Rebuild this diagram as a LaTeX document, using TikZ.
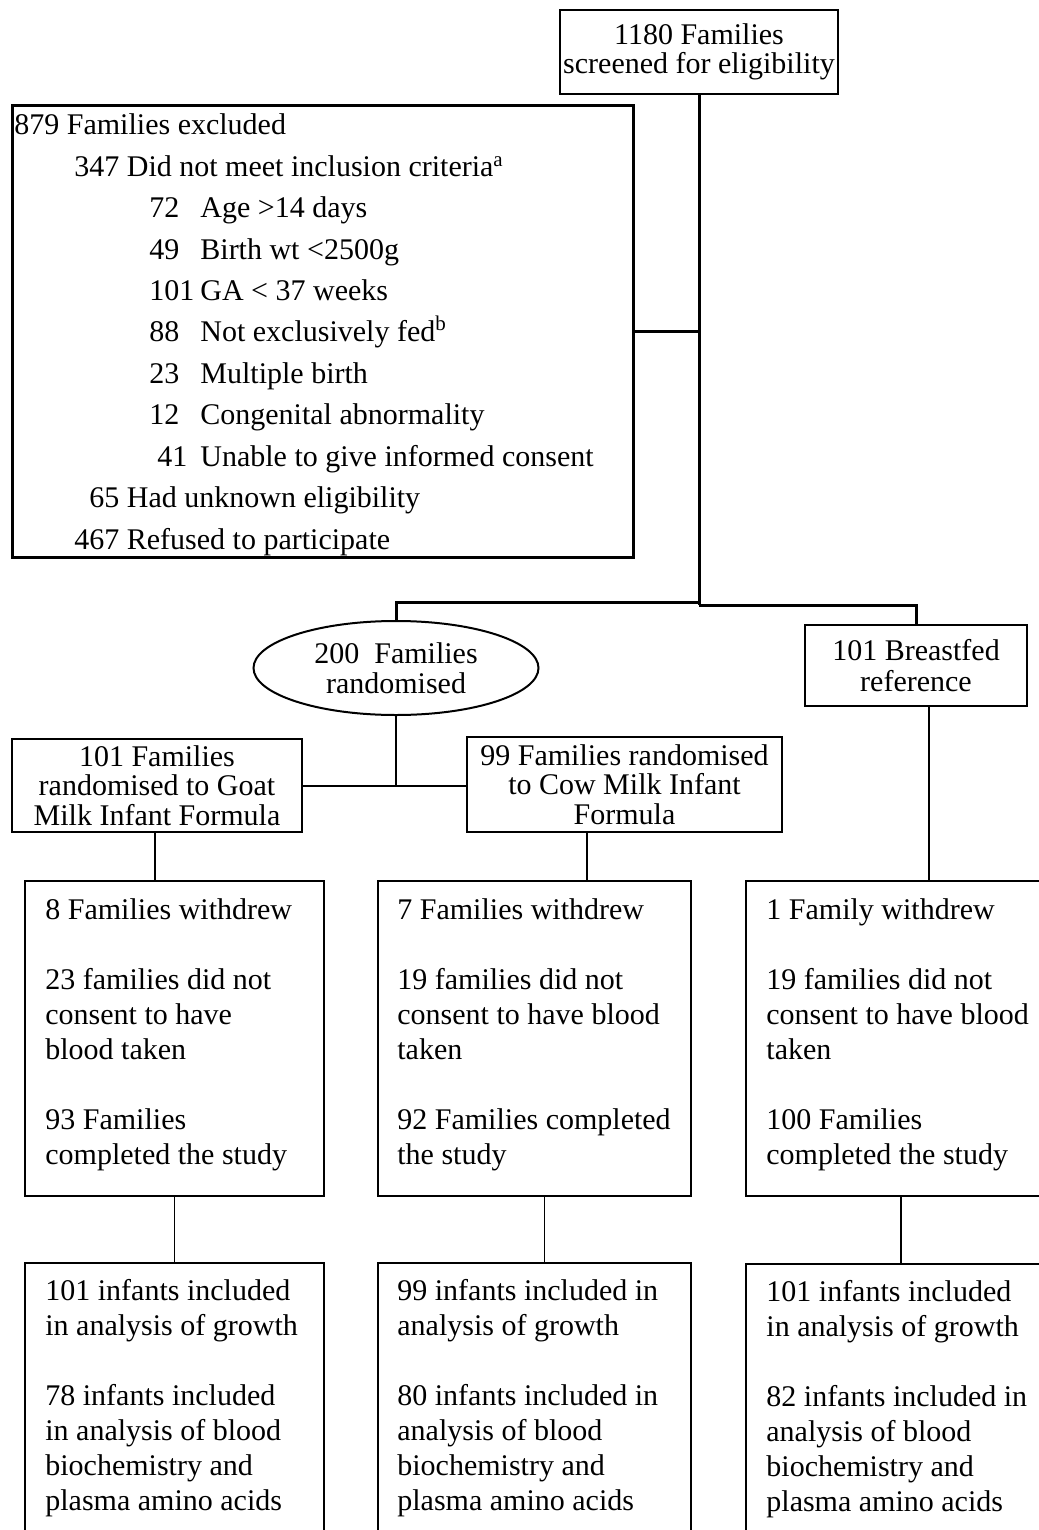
\documentclass[tikz,border=0pt]{standalone}
\usepackage{fontspec}
\setmainfont{Liberation Serif}
\usetikzlibrary{shapes.geometric}
\begin{document}
\begin{tikzpicture}[x=0.5pt,y=-0.5pt,
  ft/.style={font=\fontsize{15}{17.5}\selectfont},
  txt/.style={ft, inner sep=0pt, align=left, anchor=north west},
  exl/.style={ft, inner sep=0pt, anchor=base west},
  heavy/.style={line width=1.5pt},
  mid/.style={line width=1.1pt},
  thinl/.style={line width=0.7pt},
  rowbox/.style={draw, line width=0.8pt, inner sep=0pt}]
\useasboundingbox (0,0) rectangle (1038,1530);

% top box
\node[draw, line width=1pt, minimum width=139pt, minimum height=42pt, inner sep=0pt,
  align=center, font=\fontsize{15}{14.5}\selectfont] (top) at (699,52)
  {1180 Families\\screened for eligibility};

% exclusion box
\node[draw, heavy, minimum width=310.5pt, minimum height=225.5pt, inner sep=0pt] (excl) at (322.5,331.5) {};
\node[exl] (e1) at (14,135) {879 Families excluded};
\node[exl] (e2) at (74,177) {347 Did not meet inclusion criteria\textsuperscript{a}};
\node[exl] (e3) at (149,218) {\makebox[25.5pt][l]{72}Age >14 days};
\node[exl] (e4) at (149,259) {\makebox[25.5pt][l]{49}Birth wt <2500g};
\node[exl] (e5) at (149,300) {\makebox[25.5pt][l]{101}GA < 37 weeks};
\node[exl] (e6) at (149,341) {\makebox[25.5pt][l]{88}Not exclusively fed\textsuperscript{b}};
\node[exl] (e7) at (149,383) {\makebox[25.5pt][l]{23}Multiple birth};
\node[exl] (e8) at (149,424) {\makebox[25.5pt][l]{12}Congenital abnormality};
\node[exl] (e9) at (157,466) {\makebox[21.5pt][l]{41}Unable to give informed consent};
\node[exl] (e10) at (89,507) {65 Had unknown eligibility};
\node[exl] (e11) at (74,549) {467 Refused to participate};

% ellipse and breastfed
\node[draw, ellipse, line width=1pt, minimum width=142.5pt, minimum height=47pt, inner sep=0pt,
  align=center, font=\fontsize{15}{15}\selectfont] (ell) at (396,668)
  {200\ \ Families\\randomised};
\node[draw, line width=1.2pt, minimum width=111pt, minimum height=40.5pt, inner sep=0pt,
  align=center, font=\fontsize{15}{15.5}\selectfont] (bf) at (916,665.5)
  {101 Breastfed\\reference};

% randomised arms
\node[draw, line width=1.2pt, minimum width=145pt, minimum height=46.5pt, inner sep=0pt,
  align=center, font=\fontsize{15}{14.75}\selectfont] (goat) at (157,785.5)
  {101 Families\\randomised to Goat\\Milk Infant Formula};
\node[draw, line width=1.2pt, minimum width=157.5pt, minimum height=47.5pt, inner sep=0pt,
  align=center, font=\fontsize{15}{14.75}\selectfont] (cow) at (624.5,784.5)
  {99 Families randomised\\to Cow Milk Infant\\Formula};

% row 1 boxes
\node[rowbox, minimum width=149.5pt, minimum height=157.5pt] (b1) at (174.5,1038.5) {};
\node[rowbox, minimum width=156.5pt, minimum height=157.5pt] (b2) at (534.5,1038.5) {};
\node[rowbox, minimum width=150pt, minimum height=157.5pt] (b3) at (896,1038.5) {};
\node[txt] (t1) at (45,894.5) {\strut 8 Families withdrew\\[17.5pt]23 families did not\\consent to have\\blood taken\\[17.5pt]93 Families\\completed the study};
\node[txt] (t2) at (397,894.5) {\strut 7 Families withdrew\\[17.5pt]19 families did not\\consent to have blood\\taken\\[17.5pt]92 Families completed\\the study};
\node[txt] (t3) at (766,894.5) {\strut 1 Family withdrew\\[17.5pt]19 families did not\\consent to have blood\\taken\\[17.5pt]100 Families\\completed the study};

% row 2 boxes
\node[rowbox, minimum width=149.5pt, minimum height=148.5pt] (c1) at (174.5,1411.5) {};
\node[rowbox, minimum width=156.5pt, minimum height=148.5pt] (c2) at (534.5,1411.5) {};
\node[rowbox, minimum width=150pt, minimum height=148pt] (c3) at (896,1412) {};
\node[txt] (u1) at (45,1275.5) {\strut 101 infants included\\in analysis of growth\\[17.5pt]78 infants included\\in analysis of blood\\biochemistry and\\plasma amino acids};
\node[txt] (u2) at (397,1275.5) {\strut 99 infants included in\\analysis of growth\\[17.5pt]80 infants included in\\analysis of blood\\biochemistry and\\plasma amino acids};
\node[txt] (u3) at (766,1276.5) {\strut 101 infants included\\in analysis of growth\\[17.5pt]82 infants included in\\analysis of blood\\biochemistry and\\plasma amino acids};

% connectors
\coordinate (split) at (699,605);
\coordinate (splitL) at (699,602);
\coordinate (j2) at (396,786);
\draw[heavy] (top.south) -- (split);
\draw[heavy] (excl.east) -- (excl.east -| top.south);
\draw[heavy] (splitL) -| (ell.north);
\draw[heavy] (split) -| (bf.north);
\draw[mid] (ell.south) -- (j2);
\draw[mid] (goat.east |- j2) -- (cow.west |- j2);
\draw[thinl] ([xshift=-1pt]goat.south) -- ([xshift=-1pt]goat.south |- b1.north);
\draw[thinl] ([xshift=-18.75pt]cow.south) -- ([xshift=-18.75pt]cow.south |- b2.north);
\draw[thinl] ([xshift=6.5pt]bf.south) -- ([xshift=6.5pt]bf.south |- b3.north);
\draw[thinl] (b1.south) -- (c1.north);
\draw[thinl] ([xshift=5pt]b2.south) -- ([xshift=5pt]b2.south |- c2.north);
\draw[thinl] ([xshift=2.5pt]b3.south) -- ([xshift=2.5pt]b3.south |- c3.north);
\end{tikzpicture}
\end{document}
